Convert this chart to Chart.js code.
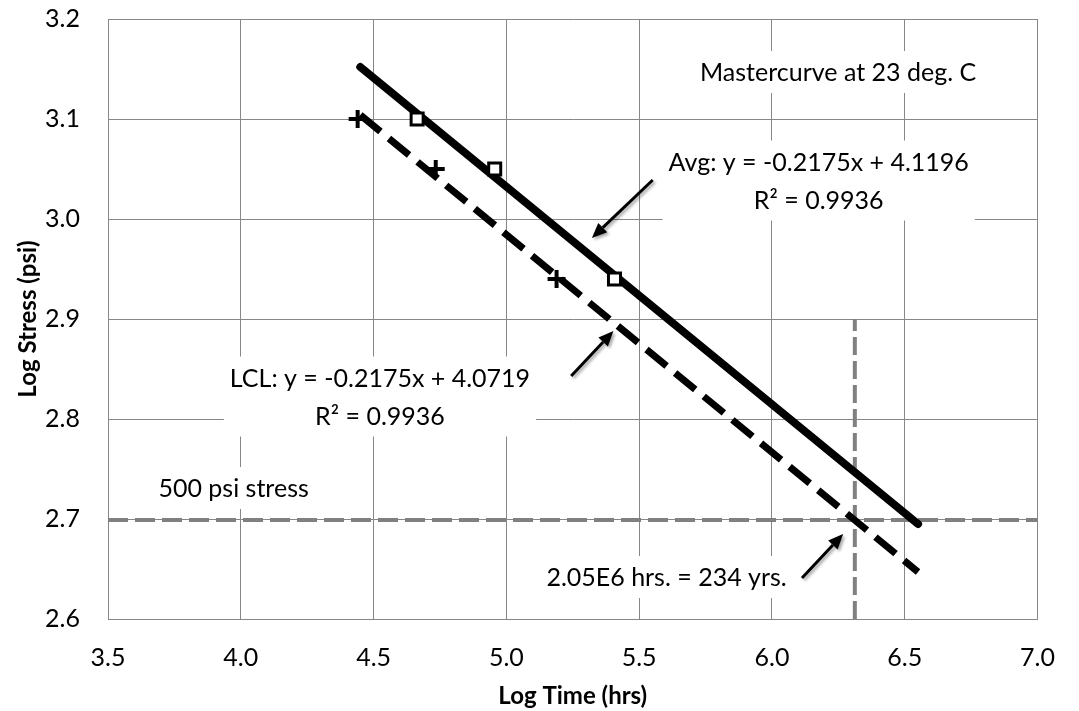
<!DOCTYPE html>
<html>
<head>
<meta charset="utf-8">
<script src="https://cdn.jsdelivr.net/npm/chart.js@4"></script>
<style>
  html, body { margin: 0; padding: 0; background: #fff; }
  #wrap { width: 1079px; height: 711px; }
</style>
</head>
<body>
<div id="wrap"><canvas id="chart" width="1079" height="711"></canvas></div>
<script>
'use strict'

// values (log10 time in hrs, log10 stress in psi)
const avgX = [4.45, 6.55]
const avgY = [3.152, 2.695]
const lclX = [4.45, 6.55]
const lclY = [3.104, 2.647]

const squareX = [4.664, 4.956, 5.407]
const squareY = [3.10, 3.05, 2.94]
const plusX = [4.44, 4.734, 5.189]
const plusY = [3.10, 3.05, 2.94]

// 500 psi stress level and the crossing time
const stressX = [3.5, 7.0]
const stressY = [2.699, 2.699]
const crossX = [6.312, 6.312]
const crossY = [2.6, 2.9]

const xTicks = [3.5, 4.0, 4.5, 5.0, 5.5, 6.0, 6.5, 7.0]
const yTicks = [2.6, 2.7, 2.8, 2.9, 3.0, 3.1, 3.2]

const xTitle = 'Log Time (hrs)'
const yTitle = 'Log Stress (psi)'

// text boxes (anchored in data units)
const notes = [
    {lines: ['Mastercurve at 23 deg. C'], x: 6.249, y: 3.146},
    {lines: ['Avg: y = -0.2175x + 4.1196', 'R\u00b2 = 0.9936'], x: 6.176, y: 3.0375},
    {lines: ['LCL: y = -0.2175x + 4.0719', 'R\u00b2 = 0.9936'], x: 4.524, y: 2.8215},
    {lines: ['500 psi stress'], x: 3.973, y: 2.730},
    {lines: ['2.05E6 hrs. = 234 yrs.'], x: 5.603, y: 2.641}
]
// arrows: [fromX, fromY, toX, toY]
const arrows = [
    [5.551, 3.039, 5.322, 2.981],
    [5.244, 2.843, 5.403, 2.888],
    [6.113, 2.641, 6.268, 2.685]
]

function pts(xs, ys){
    let out = []
    for(var i=0;i<xs.length;i++){
        out.push({x: xs[i], y: ys[i]})
    }
    return out
}

const FONT = 'Lato'
const GRID = '#878787'
const LINE_H = 38

const notesPlugin = {
    id: 'notes',
    beforeDatasetsDraw(chart){
        const ctx = chart.ctx
        const sx = chart.scales.x, sy = chart.scales.y
        ctx.save()
        ctx.font = '25px ' + FONT
        notes.forEach(n => {
            const cx = sx.getPixelForValue(n.x)
            const cy = sy.getPixelForValue(n.y)
            let w = 0
            n.lines.forEach(l => { w = Math.max(w, ctx.measureText(l).width) })
            const h = (n.lines.length - 1) * LINE_H
            ctx.fillStyle = '#fff'
            ctx.fillRect(cx - w/2 - 6, cy - h/2 - 22, w + 12, h + 42)
        })
        ctx.restore()
    },
    afterDatasetsDraw(chart){
        const ctx = chart.ctx
        const sx = chart.scales.x, sy = chart.scales.y
        ctx.save()
        ctx.font = '25px ' + FONT
        ctx.fillStyle = '#000'
        ctx.textAlign = 'center'
        ctx.textBaseline = 'middle'
        notes.forEach(n => {
            const cx = sx.getPixelForValue(n.x)
            const cy = sy.getPixelForValue(n.y)
            const h = (n.lines.length - 1) * LINE_H
            n.lines.forEach((l, i) => {
                ctx.fillText(l, cx, cy - h/2 + i * LINE_H)
            })
        })
        // arrows with a soft shadow
        arrows.forEach(a => {
            const x1 = sx.getPixelForValue(a[0]), y1 = sy.getPixelForValue(a[1])
            const x2 = sx.getPixelForValue(a[2]), y2 = sy.getPixelForValue(a[3])
            const ang = Math.atan2(y2 - y1, x2 - x1)
            const len = 15, half = 6.5
            const bx = x2 - len * Math.cos(ang), by = y2 - len * Math.sin(ang)
            ctx.save()
            ctx.shadowColor = 'rgba(0,0,0,0.35)'
            ctx.shadowBlur = 3
            ctx.shadowOffsetX = 2
            ctx.shadowOffsetY = 2
            ctx.strokeStyle = '#000'
            ctx.fillStyle = '#000'
            ctx.lineWidth = 3
            ctx.beginPath()
            ctx.moveTo(x1, y1)
            ctx.lineTo(bx, by)
            ctx.stroke()
            ctx.beginPath()
            ctx.moveTo(x2, y2)
            ctx.lineTo(bx + half * Math.sin(ang), by - half * Math.cos(ang))
            ctx.lineTo(bx - half * Math.sin(ang), by + half * Math.cos(ang))
            ctx.closePath()
            ctx.fill()
            ctx.restore()
        })
        ctx.restore()
    }
}

const data = {
    datasets: [
        {
            label: 'avg points',
            data: pts(squareX, squareY),
            showLine: false,
            pointStyle: 'rect',
            pointRadius: 8.5,
            pointBorderWidth: 3,
            pointBorderColor: '#000',
            pointBackgroundColor: '#fff'
        },
        {
            label: 'lcl points',
            data: pts(plusX, plusY),
            showLine: false,
            pointStyle: 'cross',
            pointRadius: 9,
            pointBorderWidth: 4,
            pointBorderColor: '#000'
        },
        {
            label: 'Avg',
            data: pts(avgX, avgY),
            showLine: true,
            borderColor: '#000',
            borderWidth: 8,
            borderCapStyle: 'round',
            pointRadius: 0
        },
        {
            label: 'LCL',
            data: pts(lclX, lclY),
            showLine: true,
            borderColor: '#000',
            borderWidth: 7,
            borderDash: [26, 11],
            pointRadius: 0
        },
        {
            label: '500 psi',
            data: pts(stressX, stressY),
            showLine: true,
            borderColor: '#808080',
            borderWidth: 4,
            borderDash: [20, 7],
            pointRadius: 0
        },
        {
            label: 'cross',
            data: pts(crossX, crossY),
            showLine: true,
            borderColor: '#808080',
            borderWidth: 4,
            borderDash: [18, 6],
            pointRadius: 0
        }
    ]
}

new Chart(document.getElementById('chart'), {
    type: 'scatter',
    data: data,
    plugins: [notesPlugin],
    options: {
        responsive: false,
        animation: false,
        layout: {padding: {top: 19, right: 24, left: 0, bottom: 0}},
        plugins: {legend: {display: false}, tooltip: {enabled: false}},
        scales: {
            x: {
                type: 'linear',
                min: xTicks[0],
                max: xTicks[xTicks.length - 1],
                afterBuildTicks: s => { s.ticks = xTicks.map(v => ({value: v})) },
                afterFit: s => { s.height = 92 },
                ticks: {
                    callback: v => v.toFixed(1),
                    color: '#000',
                    font: {family: FONT, size: 25},
                    padding: 24,
                    maxRotation: 0
                },
                grid: {color: GRID, lineWidth: 1, drawTicks: false},
                border: {color: GRID, width: 1},
                title: {
                    display: true,
                    text: xTitle,
                    color: '#000',
                    font: {family: FONT, size: 24, weight: 'bold'},
                    padding: {top: 0, bottom: 0}
                }
            },
            y: {
                type: 'linear',
                min: yTicks[0],
                max: yTicks[yTicks.length - 1],
                afterBuildTicks: s => { s.ticks = yTicks.map(v => ({value: v})) },
                afterFit: s => { s.width = 108 },
                ticks: {
                    callback: v => v.toFixed(1),
                    color: '#000',
                    font: {family: FONT, size: 25},
                    padding: 0
                },
                // invisible tick marks keep the labels away from the axis
                grid: {color: GRID, lineWidth: 1, drawTicks: true, tickLength: 28, tickColor: 'rgba(0,0,0,0)'},
                border: {color: GRID, width: 1},
                title: {
                    display: true,
                    text: yTitle,
                    color: '#000',
                    font: {family: FONT, size: 24, weight: 'bold'},
                    padding: {top: 14, bottom: 0}
                }
            }
        }
    }
})
</script>
</body>
</html>
